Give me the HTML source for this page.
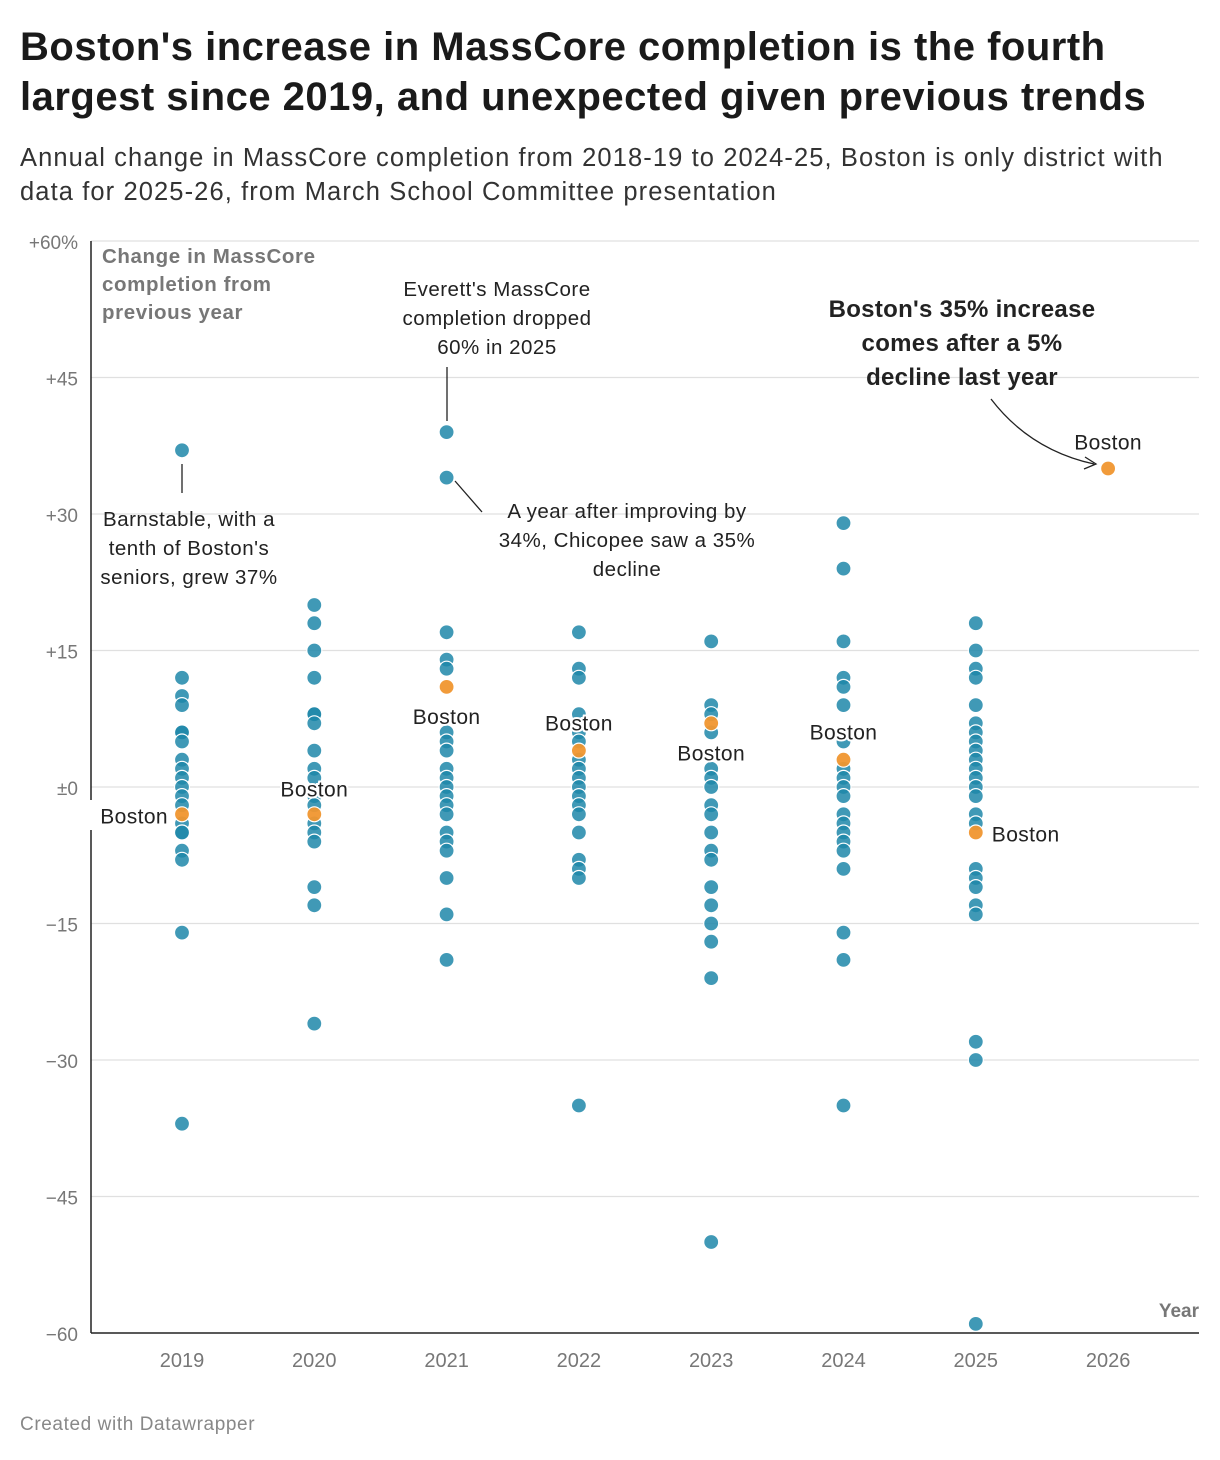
<!DOCTYPE html>
<html><head><meta charset="utf-8"><style>
body{margin:0;background:#fff;font-family:"Liberation Sans",sans-serif;}
#wrap{position:relative;width:1220px;height:1460px;overflow:hidden;}
h1{position:absolute;left:20px;top:22px;margin:0;font-size:40px;line-height:50px;font-weight:bold;color:#1a1a1a;letter-spacing:0.5px;white-space:nowrap;}
.sub{position:absolute;left:20px;top:141px;font-size:25.5px;line-height:34px;color:#333;letter-spacing:1.1px;white-space:nowrap;}
.foot{position:absolute;left:20px;top:1414px;font-size:19px;color:#888;letter-spacing:0.6px;}
svg text{font-family:"Liberation Sans",sans-serif;}
</style></head><body><div id="wrap">
<h1>Boston's increase in MassCore completion is the fourth<br>largest since 2019, and unexpected given previous trends</h1>
<div class="sub">Annual change in MassCore completion from 2018-19 to 2024-25, Boston is only district with<br>data for 2025-26, from March School Committee presentation</div>
<svg id="chart" width="1220" height="1460" style="position:absolute;left:0;top:0"></svg>
<div class="foot">Created with Datawrapper</div>
</div>
<script>
const years=[2019,2020,2021,2022,2023,2024,2025,2026];
const yTicks=[60,45,30,15,0,-15,-30,-45,-60];
const yTickLabels=["+60%","+45","+30","+15","±0","−15","−30","−45","−60"];
const v2019=[37,12,10,9,6,6,5,3,2,1,0,-1,-2,-4,-5,-5,-7,-8,-16,-37];
const v2020=[20,18,15,12,8,8,7,4,2,1,-1,-2,-4,-5,-6,-11,-13,-26];
const v2021=[39,34,17,14,13,6,5,4,2,1,0,-1,-2,-3,-5,-6,-7,-10,-14,-19];
const v2022=[17,13,12,8,6,5,3,2,1,0,-1,-2,-3,-5,-8,-9,-10,-35];
const v2023=[16,9,8,6,2,1,0,-2,-3,-5,-7,-8,-11,-13,-15,-17,-21,-50];
const v2024=[29,24,16,12,11,9,5,2,1,0,-1,-3,-4,-5,-6,-7,-9,-16,-19,-35];
const v2025=[18,15,13,12,9,7,6,5,4,3,2,1,0,-1,-3,-4,-9,-10,-11,-13,-14,-28,-30,-59];
const bostonYears=[2019,2020,2021,2022,2023,2024,2025,2026];
const bostonValues=[-3,-3,11,4,7,3,-5,35];
const others=[v2019,v2020,v2021,v2022,v2023,v2024,v2025];

const svg=document.getElementById('chart');
const NS='http://www.w3.org/2000/svg';
const X=y=>182+(y-2019)*132.3;
const Y=v=>787-v*9.1;
function el(t,a,txt){const e=document.createElementNS(NS,t);for(const k in a)e.setAttribute(k,a[k]);if(txt!==undefined)e.textContent=txt;svg.appendChild(e);return e;}

yTicks.forEach((t,i)=>{
 const g=el('line',{x1:91,x2:1199,y1:Y(t),y2:Y(t),stroke:t===-60?'#222':'#e0e0e0','stroke-width':t===-60?1.5:1.2});
 
 
 const l=el('text',{x:78,y:Y(t)+8,'text-anchor':'end','font-size':19,fill:'#777'},yTickLabels[i]);
 
 
});
const ax=el('line',{x1:91,x2:91,y1:241,y2:1333,stroke:'#222','stroke-width':1.5});


years.forEach(y=>{
 const l=el('text',{x:X(y),y:1367,'text-anchor':'middle','font-size':20,fill:'#777'},y);
 
 
});
const yt=el('text',{x:1199,y:1317,'text-anchor':'end','font-size':19,'font-weight':'bold',fill:'#777'},'Year');


const rect=el('rect',{x:90,y:800,width:5,height:30,fill:'#fff'});


[['Change in MassCore',263],['completion from',291],['previous year',319]].forEach(a=>{
 const t=el('text',{x:102,y:a[1],'font-size':20.5,'font-weight':'bold',fill:'#777','letter-spacing':0.6},a[0]);
 
 
});

others.forEach((arr,i)=>{arr.forEach(v=>{
 const c=el('circle',{cx:X(years[i]),cy:Y(v),r:7.5,fill:'#1f87a9','fill-opacity':0.85,stroke:'#fff','stroke-width':1.2});
 
 
});});
bostonYears.forEach((y,i)=>{
 const c=el('circle',{cx:X(y),cy:Y(bostonValues[i]),r:7.5,fill:'#f0962f','fill-opacity':0.95,stroke:'#fff','stroke-width':1.2});
 
 
});
// Boston labels: [year, anchor, dx, dy]
const bl=[[2019,'end',-14,9],[2020,'middle',0,-18],[2021,'middle',0,37],[2022,'middle',0,-20],[2023,'middle',0,37],[2024,'middle',0,-20],[2025,'start',16,9],[2026,'middle',0,-19]];
bl.forEach((b,i)=>{
 const t=el('text',{x:X(b[0])+b[2],y:Y(bostonValues[i])+b[3],'text-anchor':b[1],'font-size':21,fill:'#222',stroke:'#fff','stroke-width':4,'paint-order':'stroke','letter-spacing':0.4},'Boston');
 
 
});
function ann(lines,x,y0,lh,opts){lines.forEach((s,i)=>{const t=el('text',Object.assign({x:x,y:y0+i*lh,'text-anchor':'middle','font-size':20.5,fill:'#222','letter-spacing':0.5},opts||{}),s);
 
 });}
ann(["Barnstable, with a","tenth of Boston's","seniors, grew 37%"],189,526,29);
ann(["Everett's MassCore","completion dropped","60% in 2025"],497,296,29);
ann(["A year after improving by","34%, Chicopee saw a 35%","decline"],627,518,29);
ann(["Boston's 35% increase","comes after a 5%","decline last year"],962,317,34,{'font-size':24,'font-weight':'bold','letter-spacing':0.3});
[[182,464,182,493],[447,367,447,421],[455,481,482,512]].forEach(p=>{
 const l=el('line',{x1:p[0],y1:p[1],x2:p[2],y2:p[3],stroke:'#222','stroke-width':1.3});
 
 
});
const ar=el('path',{d:'M991 399 Q1030 450 1094 464',fill:'none',stroke:'#222','stroke-width':1.3});


const ah=el('path',{d:'M1085 457 L1096 464 L1084 469',fill:'none',stroke:'#222','stroke-width':1.3});


</script></body></html>
